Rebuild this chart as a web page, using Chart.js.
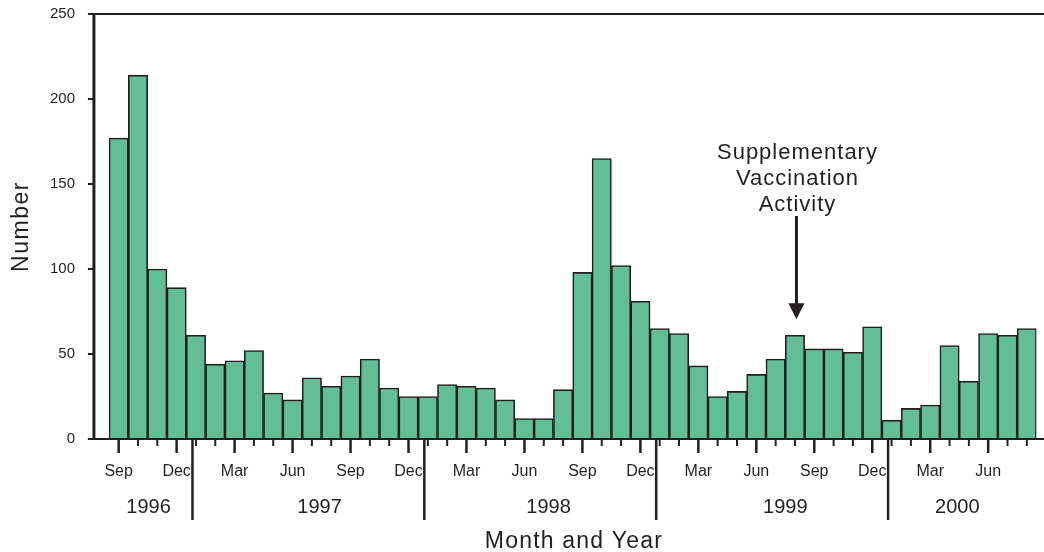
<!DOCTYPE html>
<html>
<head>
<meta charset="utf-8">
<script src="https://cdn.jsdelivr.net/npm/chart.js"></script>
<style>
  body { margin: 0; background: #fff; }
</style>
</head>
<body>
<canvas id="grafico" width="1044" height="552"></canvas>
<script>
// meses desde Sep 1996 hasta Aug 2000
const months = [
  'Sep','Oct','Nov','Dec',
  'Jan','Feb','Mar','Apr','May','Jun','Jul','Aug','Sep','Oct','Nov','Dec',
  'Jan','Feb','Mar','Apr','May','Jun','Jul','Aug','Sep','Oct','Nov','Dec',
  'Jan','Feb','Mar','Apr','May','Jun','Jul','Aug','Sep','Oct','Nov','Dec',
  'Jan','Feb','Mar','Apr','May','Jun','Jul','Aug'
]
const years = ['1996', '1997', '1998', '1999', '2000']
const cases = [
  177, 214, 100, 89,
  61, 44, 46, 52, 27, 23, 36, 31, 37, 47, 30, 25,
  25, 32, 31, 30, 23, 12, 12, 29, 98, 165, 102, 81,
  65, 62, 43, 25, 28, 38, 47, 61, 53, 53, 51, 66,
  11, 18, 20, 55, 34, 62, 61, 65
]
const yTicks = [0, 50, 100, 150, 200, 250]
const annotationText = ['Supplementary', 'Vaccination', 'Activity']
const annotationMonth = 35 // Aug 1999

const tinta = '#231f20'
const fuente = '"Liberation Sans", Arial, sans-serif'
// donde va el texto de cada año (en meses)
const yearLabelAt = [1.55, 10.4, 22.25, 34.5, 43.4]
const axisAt = -1.28 // el eje y queda un poco antes del primer mes

const line = (ctx, x1, y1, x2, y2) => {
  ctx.beginPath()
  ctx.moveTo(x1, y1)
  ctx.lineTo(x2, y2)
  ctx.stroke()
}

const extras = {
  id: 'extras',
  afterDraw(chart) {
    const ctx = chart.ctx
    const x = chart.scales.x
    const y = chart.scales.y
    const base = y.getPixelForValue(0)
    const top = y.getPixelForValue(250)
    const xl = x.getPixelForValue(axisAt)
    ctx.save()
    ctx.strokeStyle = tinta
    ctx.fillStyle = tinta

    // ejes
    ctx.lineWidth = 2
    line(ctx, xl, top, chart.width, top)
    line(ctx, xl - 6, base, chart.width, base)
    yTicks.forEach(v => {
      const py = y.getPixelForValue(v)
      line(ctx, xl - 6, py, xl, py)
    })
    ctx.lineWidth = 3
    line(ctx, xl, top - 1, xl, base + 1)

    // marcas de meses
    ctx.font = '16px ' + fuente
    ctx.textAlign = 'center'
    ctx.textBaseline = 'alphabetic'
    months.forEach((m, i) => {
      const px = x.getPixelForValue(i)
      const major = i % 3 === 0
      ctx.lineWidth = major ? 2.5 : 2
      line(ctx, px, base, px, base + (major ? 14 : 7))
      if (major) ctx.fillText(m, px, 476)
    })

    // separadores de años
    ctx.lineWidth = 2.5
    months.forEach((m, i) => {
      if (m === 'Jan') {
        const px = x.getPixelForValue(i) - 3.5
        line(ctx, px, base, px, 520)
      }
    })
    ctx.font = '20px ' + fuente
    years.forEach((yr, k) => {
      ctx.fillText(yr, x.getPixelForValue(yearLabelAt[k]), 513)
    })

    // titulos
    ctx.letterSpacing = '1.2px'
    ctx.font = '23px ' + fuente
    ctx.fillText('Month and Year', (xl + chart.width) / 2 + 5, 548)
    ctx.save()
    ctx.translate(28, (top + base) / 2)
    ctx.rotate(-Math.PI / 2)
    ctx.letterSpacing = '1.5px'
    ctx.fillText('Number', 0, 0)
    ctx.restore()

    // anotacion
    const ax = x.getPixelForValue(annotationMonth) + 1.5
    ctx.font = '22px ' + fuente
    ctx.letterSpacing = '1px'
    annotationText.forEach((t, k) => {
      ctx.fillText(t, ax + 1, 159 + k * 26)
    })
    const tip = y.getPixelForValue(cases[annotationMonth]) - 16
    ctx.lineWidth = 3
    line(ctx, ax, 216, ax, tip - 14)
    ctx.beginPath()
    ctx.moveTo(ax - 8, tip - 16)
    ctx.lineTo(ax + 8, tip - 16)
    ctx.lineTo(ax, tip)
    ctx.closePath()
    ctx.fill()
    ctx.restore()
  }
}

const ctx = document.getElementById('grafico').getContext('2d')

new Chart(ctx, {
  type: 'bar',
  data: {
    labels: months,
    datasets: [{
      label: 'Number',
      data: cases,
      backgroundColor: '#63bd97',
      borderColor: '#1e1e1e',
      borderWidth: 1.6,
      barPercentage: 1,
      categoryPercentage: 1
    }]
  },
  options: {
    responsive: false,
    animation: false,
    layout: { padding: { top: 14, left: 0, right: 7.5, bottom: 0 } },
    plugins: {
      legend: { display: false },
      tooltip: { enabled: false }
    },
    scales: {
      x: {
        ticks: { display: false },
        grid: { display: false },
        border: { display: false },
        afterFit: (scale) => { scale.height = 113 }
      },
      y: {
        min: 0,
        max: 250,
        ticks: {
          stepSize: 50,
          padding: 5,
          color: tinta,
          font: { size: 15, family: fuente }
        },
        // las marcas las dibuja el plugin; aqui solo dejan sitio
        grid: { drawOnChartArea: false, drawTicks: true, tickLength: 29, color: 'transparent' },
        border: { display: false },
        afterFit: (scale) => { scale.width = 109 }
      }
    }
  },
  plugins: [extras]
})
</script>
</body>
</html>
